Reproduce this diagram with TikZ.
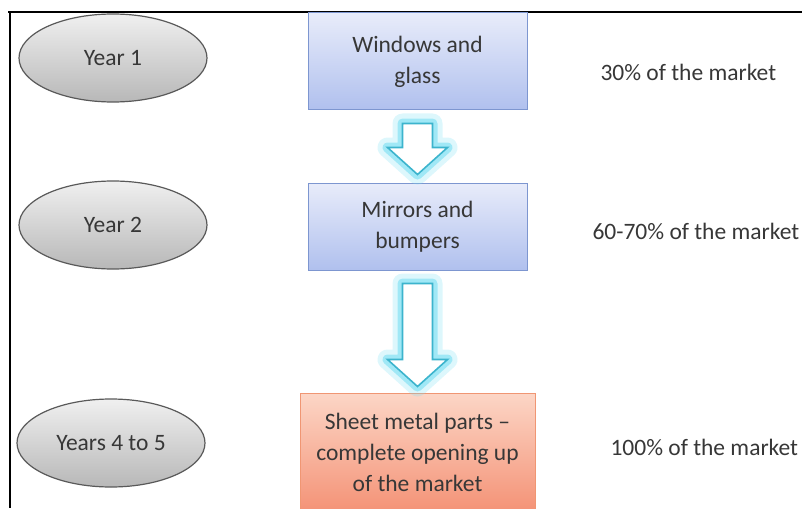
\documentclass[tikz,border=0pt]{standalone}
\usepackage{fontspec}
\setmainfont{Carlito}
\usepackage{xcolor}
\usetikzlibrary{positioning,calc,shapes.geometric}
\definecolor{InkGray}{RGB}{55,55,55}
\definecolor{StepBlue}{RGB}{125,150,208}
\definecolor{StepTop}{RGB}{232,236,250}
\definecolor{StepBottom}{RGB}{176,192,238}
\definecolor{EndLine}{RGB}{240,150,115}
\definecolor{EndTop}{RGB}{252,214,198}
\definecolor{EndBottom}{RGB}{244,146,118}
\definecolor{ArrowTeal}{RGB}{60,180,205}
\definecolor{GlowCyan}{RGB}{120,222,242}

\tikzset{
  x=1pt, y=1pt,
  labeltext/.style={font=\fontsize{23.5}{31}\selectfont, text=InkGray, align=center},
  yearnode/.style={ellipse, labeltext, draw=black!65, line width=1.2pt,
    top color=black!6, bottom color=black!28, minimum width=188pt, minimum height=88pt},
  stepbox/.style={rectangle, labeltext, draw=StepBlue, line width=1pt,
    top color=StepTop, bottom color=StepBottom, minimum width=219pt},
  endbox/.style={rectangle, labeltext, draw=EndLine, line width=1pt,
    top color=EndTop, bottom color=EndBottom, minimum width=235pt, minimum height=119pt},
  sharetext/.style={labeltext, anchor=west},
  glowwide/.style={draw=GlowCyan, line width=20pt, line join=round, opacity=0.25},
  glownarrow/.style={draw=GlowCyan, line width=10pt, line join=round, opacity=0.6},
  arrowbody/.style={draw=ArrowTeal, fill=white, line width=1.6pt, line join=miter}
}

% hollow arrow from #1 (top of shaft) to #2 (tip)
\newcommand{\hollowarrow}[2]{%
  \foreach \sty in {glowwide,glownarrow,arrowbody}
    \draw[\sty] let \p1=(#1), \p2=(#2) in
      (\x1-15pt,\y1) -- (\x1+15pt,\y1) -- (\x1+15pt,\y2+27pt) -- (\x1+30pt,\y2+27pt)
      -- (\x1,\y2) -- (\x1-30pt,\y2+27pt) -- (\x1-15pt,\y2+27pt) -- cycle;
}

\begin{document}
\begin{tikzpicture}
  \useasboundingbox (0,0) rectangle (802,-508);
  % frame lines
  \draw[line width=1.4pt] (8,-12) -- (802,-12);
  \draw[line width=1.4pt] (10,-12) -- (10,-508);

  % years
  \node[yearnode] (y1) at (113,-58) {Year 1};
  \node[yearnode] (y2) at (113,-225) {Year 2};
  \node[yearnode] (y45) at (111,-443) {Years 4 to 5};

  % steps
  \node[stepbox, minimum height=97pt] (win) at (417.5,-61.5) {Windows and\\glass};
  \node[stepbox, minimum height=87pt] (mir) at (417.5,-226.5) {Mirrors and\\bumpers};
  \node[endbox] (sheet) at (417.5,-452.5) {Sheet metal parts --\\complete opening up\\of the market};

  % market share
  \node[sharetext] (s1) at (597,-72) {30\% of the market};
  \node[sharetext] (s2) at (589,-231) {60-70\% of the market};
  \node[sharetext] (s3) at (607,-447) {100\% of the market};

  % arrows
  \coordinate (a1top) at ([yshift=-13pt]win.south);
  \coordinate (a1tip) at ([yshift=8pt]mir.north);
  \coordinate (a2top) at ([yshift=-13pt]mir.south);
  \coordinate (a2tip) at ([yshift=6pt]sheet.north);
  \hollowarrow{a1top}{a1tip}
  \hollowarrow{a2top}{a2tip}
\end{tikzpicture}
\end{document}
